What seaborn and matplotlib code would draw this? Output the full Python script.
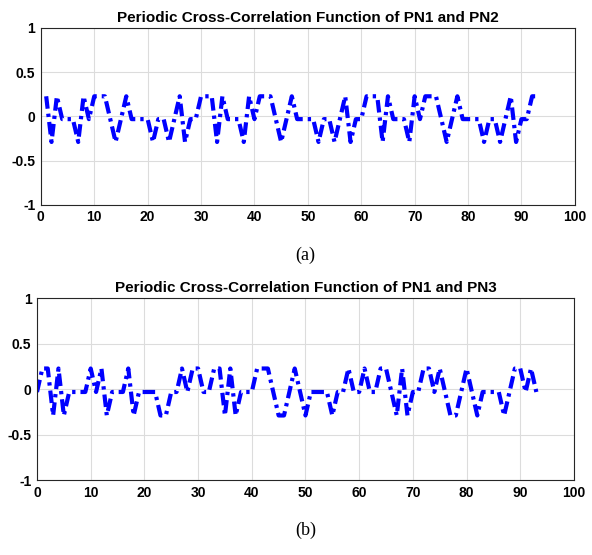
import numpy as np
import pandas as pd
import matplotlib
matplotlib.use("Agg")
import matplotlib.pyplot as plt
import seaborn as sns

sns.set_style("whitegrid")
plt.rcParams['font.family'] = ['Liberation Sans', 'DejaVu Sans']
plt.rcParams['text.color'] = 'black'
plt.rcParams['xtick.color'] = 'black'
plt.rcParams['ytick.color'] = 'black'

H, M, L = 7 / 31, -1 / 31, -9 / 31

# periodic cross-correlation PN1/PN2, lags 1..93
pn12 = [H, L, H, M, M, M, L, H, M, H, H, H, M, L, M, H, M, M, M, M,
        L, M, M, L, M, H, L, M, M, H, H, H, L, H, M, M, M, L, H, M,
        H, H, H, M, L, M, H, M, M, M, M, L, M, M, L, M, H, L, M, M,
        H, H, H, L, H, M, M, M, L, H, M, H, H, H, M, L, M, H, M, M,
        M, M, L, M, M, L, M, H, L, M, M, H, H]
lag12 = list(range(1, len(pn12) + 1))

# periodic cross-correlation PN1/PN3, lags 0..93
pn13 = [M, H, H, L, H, L, M, M, M, M, H, M, H, L, M, M, M, H, L, M,
        M, M, M, L, L, M, M, H, M, H, H, M, M, H, H, L, H, L, M, M,
        M, H, H, H, M, L, L, M, H, M, L, M, M, M, M, L, M, M, H, M,
        M, H, M, M, H, H, M, L, H, L, M, M, H, H, M, H, M, L, L, M,
        H, M, L, M, M, M, M, L, M, H, H, M, H, M]
lag13 = list(range(0, len(pn13)))

titles = ["Periodic Cross-Correlation Function of PN1 and PN2",
          "Periodic Cross-Correlation Function of PN1 and PN3"]
captions = ["(a)", "(b)"]

fig = plt.figure(figsize=(5.92, 5.55), dpi=100)
ax1 = fig.add_axes([0.069, 0.631, 0.902, 0.319])
ax2 = fig.add_axes([0.0625, 0.135, 0.907, 0.328])

for ax, x, y, t in [(ax1, lag12, pn12, titles[0]), (ax2, lag13, pn13, titles[1])]:
    df = pd.DataFrame({"lag": x, "r": y})
    sns.lineplot(data=df, x="lag", y="r", ax=ax, color="#0000ff", linewidth=3,
                 linestyle=(0, (3, 1.2, 0.8, 1.2)))
    ax.set_xlim(0, 100)
    ax.set_ylim(-1, 1)
    ax.set_xticks(range(0, 101, 10))
    ax.set_yticks([-1, -0.5, 0, 0.5, 1])
    ax.set_yticklabels(["-1", "-0.5", "0", "0.5", "1"])
    ax.set_xlabel("")
    ax.set_ylabel("")
    ax.set_title(t, fontsize=11, fontweight="bold", pad=4, color="black")
    ax.grid(True, color="#dcdcdc", linewidth=0.8)
    for s in ax.spines.values():
        s.set_color("#262626")
        s.set_linewidth(0.8)
    ax.tick_params(axis="both", labelsize=10, length=3, direction="in", pad=4,
                   labelcolor="black")
    for lab in ax.get_xticklabels() + ax.get_yticklabels():
        lab.set_fontweight("bold")

fig.text(0.516, 0.54, captions[0], ha="center", va="center", fontsize=13,
         family=["Liberation Serif", "DejaVu Serif"])
fig.text(0.516, 0.045, captions[1], ha="center", va="center", fontsize=13,
         family=["Liberation Serif", "DejaVu Serif"])

fig.savefig("out.png", dpi=100)
